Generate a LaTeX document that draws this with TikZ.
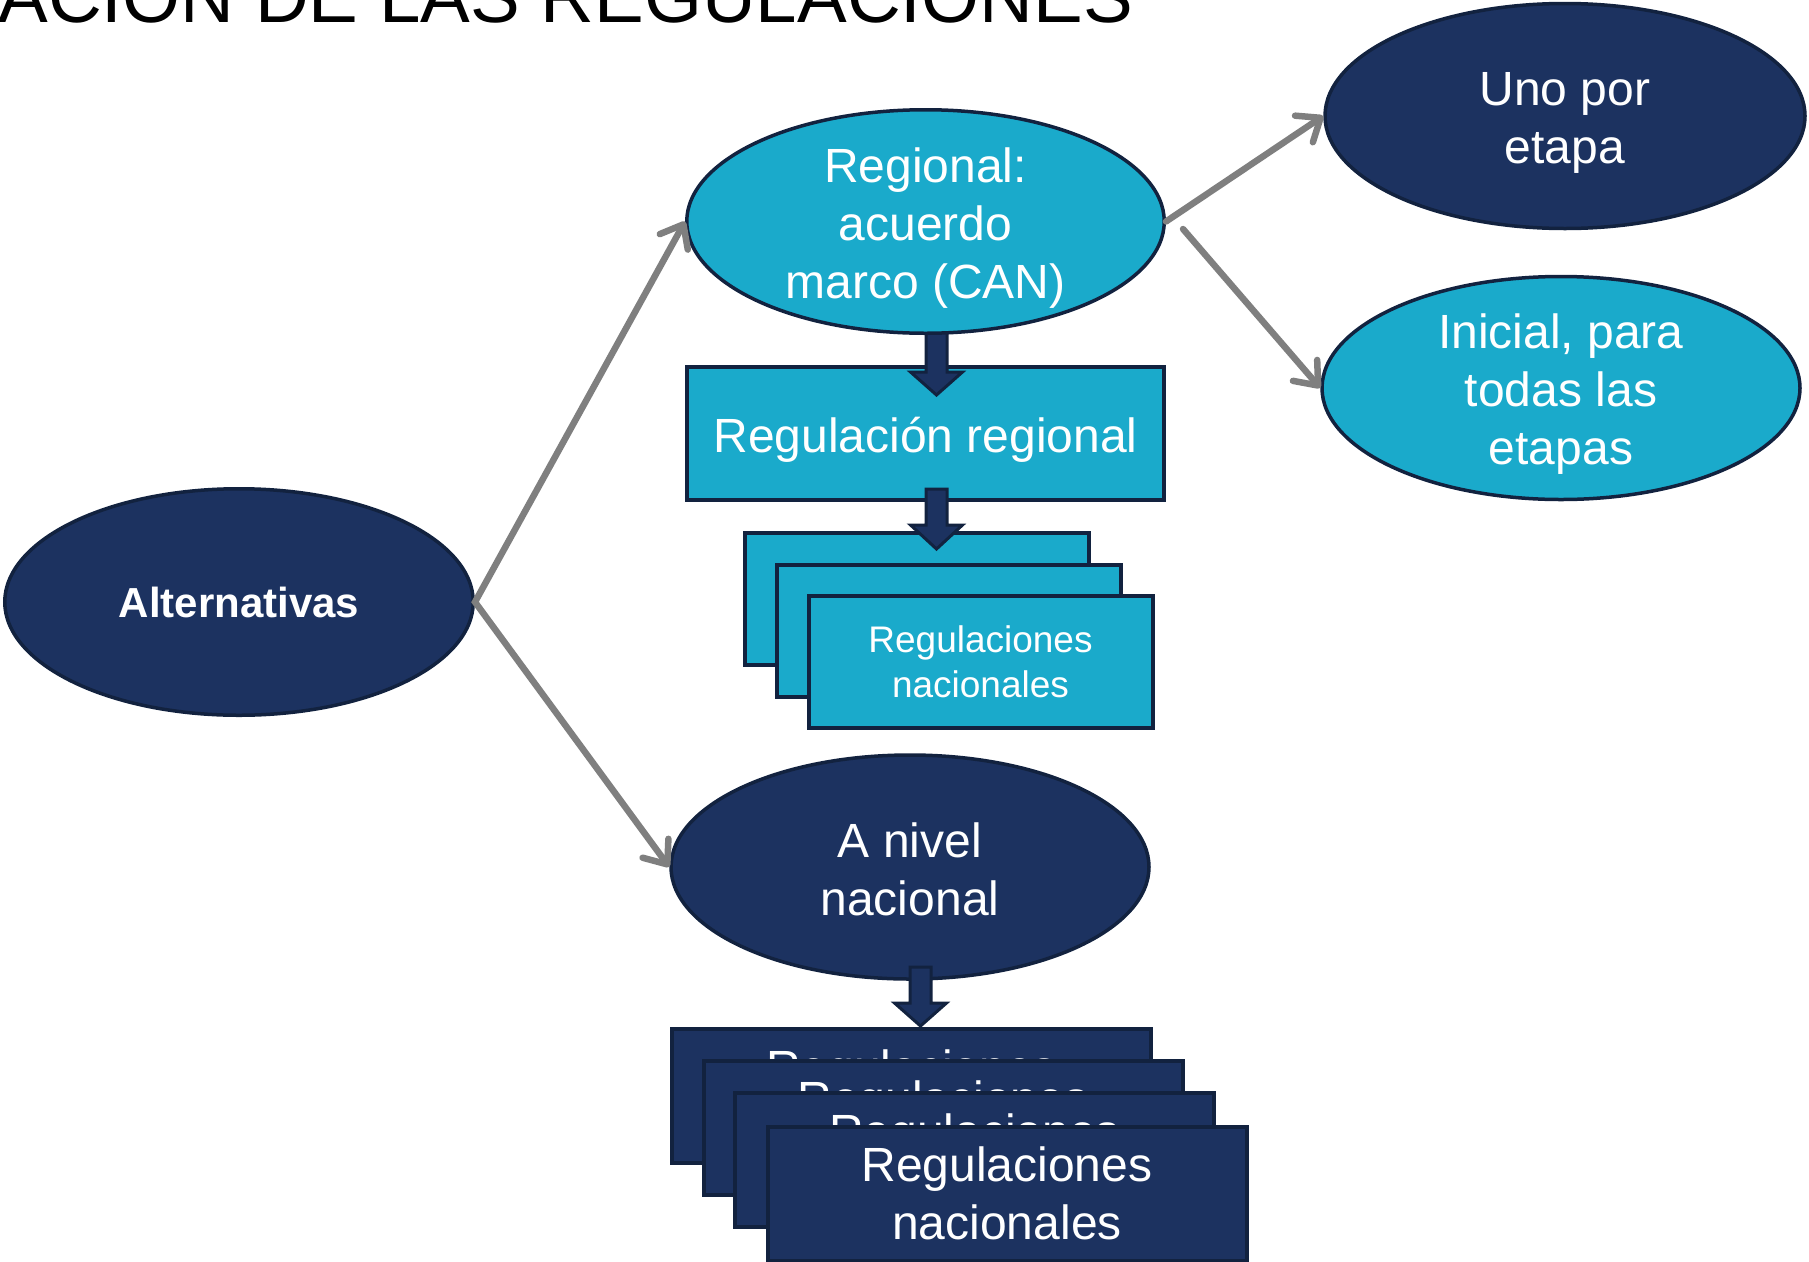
\documentclass[tikz,border=0pt]{standalone}
\usepackage{fontspec}
\setmainfont{Liberation Sans}
\usetikzlibrary{shapes.geometric,arrows.meta,calc}
\definecolor{navyfill}{HTML}{1C3260}
\definecolor{navyline}{HTML}{12223F}
\definecolor{cyanfill}{HTML}{1AAACB}
\definecolor{greyline}{HTML}{7F7F7F}
\newcommand\bigtxt{\fontsize{48}{58}\selectfont}
\newcommand\smalltxt{\fontsize{37}{45}\selectfont}
\newcommand\blkarrow[4]{%
  \draw[barrow] (#1-10.5,#2) -- (#1+10.5,#2) -- (#1+10.5,#3) -- (#1+26,#3) -- (#1,#4) -- (#1-26,#3) -- (#1-10.5,#3) -- cycle;}
\begin{document}
\begin{tikzpicture}[x=1pt,y=-1pt,
  oval/.style={ellipse, draw=navyline, line width=3.5pt, inner sep=0pt},
  darkoval/.style={oval, fill=navyfill},
  lightoval/.style={oval, fill=cyanfill},
  txt/.style={text=white, align=center, font=\bigtxt, inner sep=0pt},
  box/.style={rectangle, draw=navyline, line width=4pt, inner sep=0pt, text=white, align=center},
  darkbox/.style={box, fill=navyfill, minimum width=479pt, minimum height=134pt, font=\bigtxt},
  lightbox/.style={box, fill=cyanfill, minimum width=344pt, minimum height=132pt, font=\smalltxt},
  garrow/.style={draw=greyline, line width=6.5pt, line cap=round, line join=miter,
    {Straight Barb[length=20pt,width=32pt,line cap=round,line join=round]}-{Straight Barb[length=20pt,width=32pt,line cap=round,line join=round]}},
  garrowone/.style={draw=greyline, line width=6.5pt, line cap=round,
    -{Straight Barb[length=20pt,width=32pt,line cap=round,line join=round]}},
  barrow/.style={fill=navyfill, draw=navyline, line width=3pt, line join=miter}
]
\useasboundingbox (0,0) rectangle (1809,1261);
\clip (0,0) rectangle (1809,1261);

% title
\node[anchor=base east, inner sep=0pt, font=\fontsize{74.5}{89}\selectfont] (title) at (1133,22) {ACIÓN DE LAS REGULACIONES};

% regional branch
\node[box, fill=cyanfill, minimum width=477pt, minimum height=133pt, font=\bigtxt, text height=37pt, text depth=0pt] (rr) at (925.5,433.5) {Regulación regional};
\blkarrow{936.5}{320}{372}{395}
\node[lightoval, minimum width=477.5pt, minimum height=223.5pt] (reg) at (925.5,221.5) {};
\node[txt] (regT) at ($(reg.center)+(0,7)$) {Regional:\\acuerdo\\marco (CAN)};
\node[darkoval, minimum width=480pt, minimum height=225pt] (uno) at (1565,116) {};
\node[txt] (unoT) at ($(uno.center)+(0,7)$) {Uno por\\etapa};
\node[lightoval, minimum width=478pt, minimum height=223pt] (ini) at (1561,388) {};
\node[txt] (iniT) at ($(ini.center)+(0,6)$) {Inicial, para\\todas las\\etapas};

\node[lightbox] (c1) at (917,599) {};
\node[lightbox] (c2) at (949,630.5) {};
\node[lightbox] (c3) at (980.5,662) {Regulaciones\\nacionales};
\blkarrow{936.5}{489}{525}{549}

% alternatives and national branch
\node[darkoval, minimum width=468.5pt, minimum height=226.5pt] (alt) at (239,602) {};
\node[txt, font=\bfseries\fontsize{42}{50}\selectfont] (altT) at (alt.center) {Alternativas};
\node[darkoval, minimum width=478pt, minimum height=224pt] (nac) at (910,867) {};
\node[txt] (nacT) at ($(nac.center)+(0,2)$) {A nivel\\nacional};

\node[darkbox] (n1) at (911.5,1096) {Regulaciones\\nacionales};
\node[darkbox] (n2) at (943,1127.5) {Regulaciones\\nacionales};
\node[darkbox] (n3) at (974.5,1160) {Regulaciones\\nacionales};
\node[darkbox] (n4) at (1007,1193.5) {Regulaciones\\nacionales};
\blkarrow{920.5}{967}{1003}{1026}

% grey connectors
\draw[garrow] (reg.west) -- (alt.east) -- (nac.west);
\draw[garrowone] (reg.east) -- (uno.west);
\coordinate (s4) at (1183,229);
\draw[garrowone] (s4) -- (ini.west);
\end{tikzpicture}
\end{document}
